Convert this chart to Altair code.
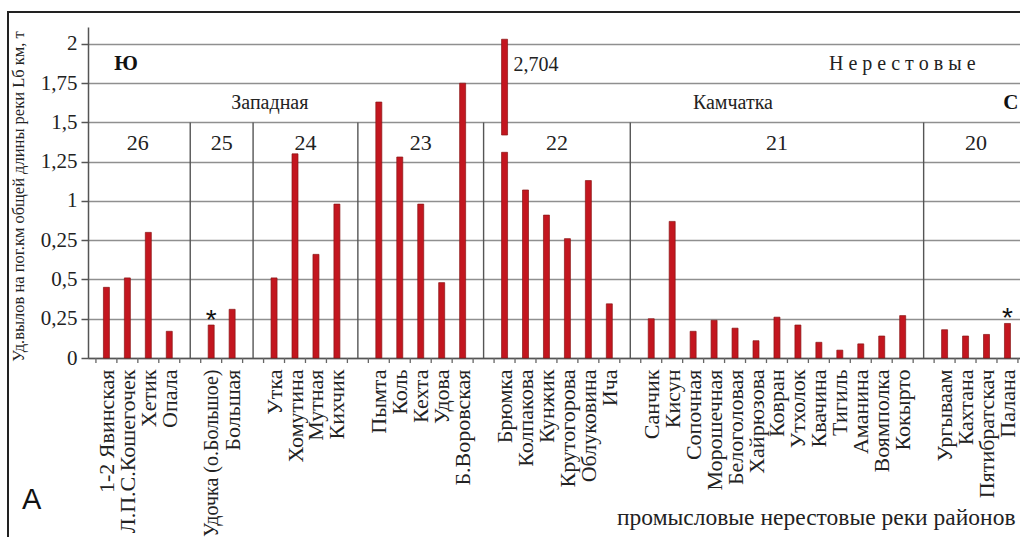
import json
import altair as alt
import pandas as pd

# ---------------- data ----------------
group_ids = ["26", "25", "24", "23", "22", "21", "20"]

rivers_26 = ["1-2 Явинская", "Л.П.С.Кошегочек", "Хетик", "Опала"]
values_26 = [0.45, 0.51, 0.80, 0.17]
rivers_25 = ["Удочка (о.Большое)", "Большая"]
values_25 = [0.21, 0.31]
rivers_24 = ["Утка", "Хомутина", "Мутная", "Кихчик"]
values_24 = [0.51, 1.30, 0.66, 0.98]
rivers_23 = ["Пымта", "Коль", "Кехта", "Удова", "Б.Воровская"]
values_23 = [1.63, 1.28, 0.98, 0.48, 1.75]
rivers_22 = ["Брюмка", "Колпакова", "Кунжик", "Крутогорова", "Облуковина", "Ича"]
values_22 = [2.704, 1.07, 0.91, 0.76, 1.13, 0.345]
rivers_21 = ["Санчик", "Кисун", "Сопочная", "Морошечная", "Белоголовая",
             "Хайрюзова", "Ковран", "Утхолок", "Квачина", "Тигиль",
             "Аманина", "Воямполка", "Кокырто"]
values_21 = [0.25, 0.87, 0.17, 0.24, 0.19, 0.11, 0.26, 0.21, 0.10, 0.05,
             0.09, 0.14, 0.27]
rivers_20 = ["Ургываам", "Кахтана", "Пятибратскач", "Палана"]
values_20 = [0.18, 0.14, 0.15, 0.22]

starred_rivers = ["Удочка (о.Большое)", "Палана"]

# the off-scale bar is drawn broken
broken_river = "Брюмка"
broken_label = "2,704"
broken_low = 1.31
broken_high = 1.42
broken_top = 2.03

y_tick_values = [0, 0.25, 0.5, 0.75, 1, 1.25, 1.5, 1.75, 2]
y_tick_labels = ["0", "0,25", "0,5", "0,25", "1", "1,25", "1,5", "1,75", "2"]

y_title = "Уд.вылов на пог.км общей длины реки Lб км, т"
x_title = "промысловые нерестовые реки районов"
panel_letter = "A"

# ---------------- build tables ----------------
groups = [
    ("26", rivers_26, values_26), ("25", rivers_25, values_25),
    ("24", rivers_24, values_24), ("23", rivers_23, values_23),
    ("22", rivers_22, values_22), ("21", rivers_21, values_21),
    ("20", rivers_20, values_20),
]
rows, gap_slots, group_rows = [], [], []
slot = 0
for gi, (gid, rv, vv) in enumerate(groups):
    if gi > 0:
        gap_slots.append(slot)
        slot += 1
    start = slot
    for r, v in zip(rv, vv):
        rows.append({"slot": slot, "river": r, "value": v})
        slot += 1
    group_rows.append({"group": gid, "x": (start + slot - 1) / 2})
n_slots = slot

names = [""] * n_slots
for r in rows:
    names[r["slot"]] = r["river"]
long_slots = [r["slot"] for r in rows if len(r["river"]) > 16]

bar_rows = []
for r in rows:
    if r["river"] == broken_river:
        bar_rows.append({"x": r["slot"], "bottom": 0, "top": broken_low})
        bar_rows.append({"x": r["slot"], "bottom": broken_high, "top": broken_top})
    else:
        bar_rows.append({"x": r["slot"], "bottom": 0, "top": r["value"]})
bars_df = pd.DataFrame(bar_rows)
gaps_df = pd.DataFrame({"x": gap_slots, "top": [1.5] * len(gap_slots),
                        "bottom": [0] * len(gap_slots)})
ticks_df = pd.DataFrame({"x": [i - 0.5 for i in range(n_slots + 1)]})
groups_df = pd.DataFrame(group_rows)
stars_df = pd.DataFrame([{"x": r["slot"], "top": r["value"]} for r in rows
                         if r["river"] in starred_rivers])
broken_df = pd.DataFrame([{"x": r["slot"], "label": broken_label} for r in rows
                          if r["river"] == broken_river])

# ---------------- layout ----------------
PW, PH = 932, 331
SERIF = "Liberation Serif"
xs = alt.Scale(domain=[-0.64, 43.36], nice=False, zero=False)
ys = alt.Scale(domain=[0, 2.108], nice=False, zero=False)
BAR_RED = "#c3161f"

long_test = "indexof(" + json.dumps(long_slots) + ", round(datum.value)) >= 0"

x_axis = alt.Axis(
    values=[r["slot"] for r in rows],
    labelExpr=json.dumps(names, ensure_ascii=False) + "[round(datum.value)]",
    labelAngle=270, labelAlign="right", labelBaseline="middle",
    labelPadding=11, labelFont=SERIF,
    labelFontSize={"condition": {"test": long_test, "value": 20}, "value": 22},
    labelColor="#222",
    labelOverlap=False, labelBound=False, labelFlush=False, labelLimit=0,
    ticks=False, grid=False, domainColor="#555", domainWidth=1.5,
    title=x_title, titleFont=SERIF, titleFontSize=23.5, titleFontWeight="normal",
    titleColor="#222", titleX=927, titleY=166, titleAlign="right",
    titleBaseline="alphabetic", titleAngle=0,
)
y_axis = alt.Axis(
    values=y_tick_values,
    labelExpr=json.dumps(y_tick_labels, ensure_ascii=False) + "[round(datum.value*4)]",
    labelFont=SERIF, labelFontSize=21, labelColor="#222", labelPadding=4,
    tickSize=7, tickColor="#555", tickWidth=1.5,
    domainColor="#555", domainWidth=1.5,
    grid=True, gridColor="#8f8f8f", gridWidth=1.5,
    title=y_title, titleFont=SERIF, titleFontSize=16.5, titleFontWeight="normal",
    titleColor="#222", titleX=-70, titleY=169, titleAngle=270,
    titleAlign="center", titleBaseline="middle",
)

X = alt.X("x:Q", scale=xs, axis=x_axis)
Y = alt.Y("top:Q", scale=ys, axis=y_axis)

bars = alt.Chart(bars_df).mark_bar(
    size=6, fill=BAR_RED, stroke="#8a1515", strokeWidth=0.7
).encode(x=X, y=Y, y2="bottom:Q")

dividers = alt.Chart(gaps_df).mark_rule(color="#555", strokeWidth=1.4).encode(
    x=X, y=Y, y2="bottom:Q",
)

xticks = alt.Chart(ticks_df).mark_rule(color="#666", strokeWidth=1.3).encode(
    x=X, y=alt.value(PH), y2=alt.value(PH + 5),
)

group_labels = alt.Chart(groups_df).mark_text(
    font=SERIF, fontSize=22, color="#222", baseline="middle", align="center"
).encode(x=X, y=alt.Y(datum=1.37, scale=ys, axis=y_axis), text="group:N")

stars = alt.Chart(stars_df).mark_text(
    text="*", font="Liberation Sans", fontSize=28, color="#111",
    baseline="alphabetic", align="center", dy=4
).encode(x=X, y=Y)

broken_text = alt.Chart(broken_df).mark_text(
    font=SERIF, fontSize=20, color="#222", baseline="middle", align="left", dx=9
).encode(x=X, y=alt.Y(datum=1.865, scale=ys, axis=y_axis), text="label:N")

headers_df = pd.DataFrame([
    {"text": "Н е р е с т о в ы е", "x": 37.98, "top": 1.875},
    {"text": "Западная", "x": 7.8, "top": 1.624},
    {"text": "Камчатка", "x": 29.9, "top": 1.624},
])
headers = alt.Chart(headers_df).mark_text(
    font=SERIF, fontSize=20, color="#222", baseline="middle", align="center"
).encode(x=X, y=Y, text="text:N")

bold_df = pd.DataFrame([{"text": "Ю", "x": 0.94, "top": 1.875}])
bold_headers = alt.Chart(bold_df).mark_text(
    font=SERIF, fontSize=21, fontWeight="bold", color="#111",
    baseline="middle", align="center"
).encode(x=X, y=Y, text="text:N")

bold_c = alt.Chart(pd.DataFrame([{"text": "С", "x": 42.8, "top": 1.624}])).mark_text(
    font=SERIF, fontSize=21, fontWeight="bold", color="#111",
    baseline="middle", align="left"
).encode(x=X, y=Y, text="text:N")

one = pd.DataFrame({"t": [panel_letter]})
frame = alt.Chart(one).mark_rect(
    fill=None, stroke="#222", strokeWidth=2, clip=False
).encode(
    x=alt.value(-80), x2=alt.value(PW + 40),
    y=alt.value(-15), y2=alt.value(PH + 300),
)
letter = alt.Chart(one).mark_text(
    font="Liberation Sans", fontSize=29, color="#111",
    align="left", baseline="alphabetic"
).encode(x=alt.value(-66), y=alt.value(482), text="t:N")

chart = alt.layer(
    bars, dividers, xticks, group_labels, stars, broken_text,
    headers, bold_headers, bold_c, frame, letter
).properties(
    width=PW, height=PH,
    padding={"left": 88, "top": 27, "right": 0, "bottom": 179},
    autosize=alt.AutoSizeParams(type="none"),
    background="white",
).configure_view(stroke=None)

chart.save("out.html", embed_options={"renderer": "svg", "actions": False})
